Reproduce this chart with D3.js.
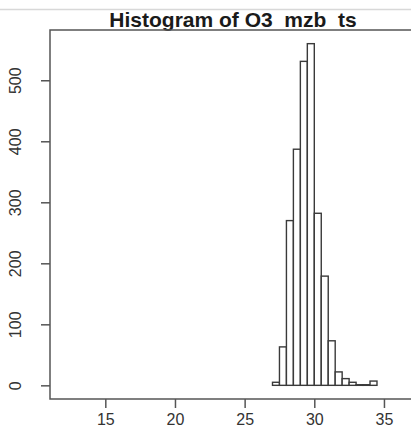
<!DOCTYPE html>
<html>
<head>
<meta charset="utf-8">
<script src="https://cdn.jsdelivr.net/npm/d3@7"></script>
<style>
  html, body { margin: 0; padding: 0; background: #fff; }
  svg { display: block; }
</style>
</head>
<body>
<svg id="chart" width="411" height="439"></svg>
<script>
// ---- data ----
const title = "Histogram of O3  mzb  ts";
const binStarts = [27, 27.5, 28, 28.5, 29, 29.5, 30, 30.5, 31, 31.5, 32, 32.5, 33, 33.5, 34];
const binWidth = 0.5;
const counts = [5, 63, 270, 387, 531, 560, 282, 179, 73, 22, 11, 5, 1, 1, 7];
const xTicks = [15, 20, 25, 30, 35];
const yTicks = [0, 100, 200, 300, 400, 500];
const xLimits = [11.03, 37.3];
const yLimits = [-22.4, 582.4];

const svg = d3.select("#chart");
const plot = { left: 50, right: 416, top: 30, bottom: 399 };

const x = d3.scaleLinear().domain(xLimits).range([plot.left, plot.right]);
const y = d3.scaleLinear().domain(yLimits).range([plot.bottom, plot.top]);

const ink = "#3a3a3a";
const font = "'Liberation Sans', Arial, Helvetica, sans-serif";

// faint top rule
svg.append("line")
  .attr("x1", 0).attr("x2", 411).attr("y1", 9.5).attr("y2", 9.5)
  .attr("stroke", "#d8d8d8").attr("stroke-width", 1.5);

// title
svg.append("text")
  .attr("x", (plot.left + plot.right) / 2).attr("y", 27)
  .attr("text-anchor", "middle")
  .attr("font-family", font).attr("font-weight", "bold").attr("font-size", 21)
  .attr("fill", "#1a1a1a")
  .style("white-space", "pre")
  .text(title);

// bars
const bins = binStarts.map((s, i) => ({ x0: s, x1: s + binWidth, n: counts[i] }));
svg.append("g").selectAll("rect").data(bins).join("rect")
  .attr("x", d => x(d.x0))
  .attr("width", d => x(d.x1) - x(d.x0))
  .attr("y", d => y(d.n))
  .attr("height", d => y(0) - y(d.n))
  .attr("fill", "#fff")
  .attr("stroke", ink)
  .attr("stroke-width", 1.4);

// box
svg.append("rect")
  .attr("x", plot.left).attr("y", plot.top)
  .attr("width", plot.right - plot.left).attr("height", plot.bottom - plot.top)
  .attr("fill", "none").attr("stroke", "#555").attr("stroke-width", 1.5);

// x axis
const xAxis = d3.axisBottom(x).tickValues(xTicks).tickSize(9).tickPadding(6).tickFormat(d3.format("d"));
const gx = svg.append("g").attr("transform", `translate(0,${plot.bottom})`).call(xAxis);
gx.select(".domain").remove();
gx.selectAll("line").attr("stroke", "#555").attr("stroke-width", 1.5);
gx.selectAll("text").attr("font-family", font).attr("font-size", 16).attr("fill", "#333");

// y axis
const yAxis = d3.axisLeft(y).tickValues(yTicks).tickSize(9).tickPadding(6).tickFormat(d3.format("d"));
const gy = svg.append("g").attr("transform", `translate(${plot.left},0)`).call(yAxis);
gy.select(".domain").remove();
gy.selectAll("line").attr("stroke", "#555").attr("stroke-width", 1.5);
gy.selectAll("text")
  .attr("font-family", font).attr("font-size", 16).attr("fill", "#333")
  .attr("text-anchor", "middle")
  .attr("x", 0).attr("y", 0).attr("dy", 0)
  .attr("transform", "translate(-29,0) rotate(-90)");
</script>
</body>
</html>
